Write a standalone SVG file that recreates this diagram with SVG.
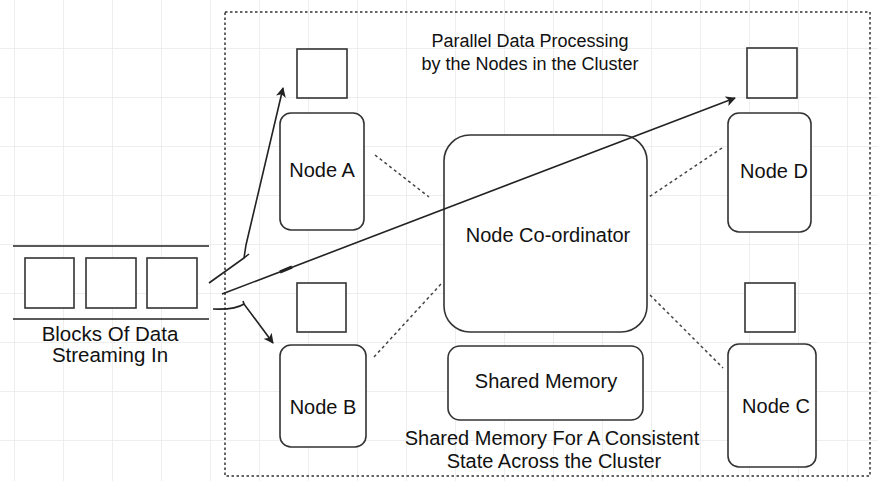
<svg xmlns="http://www.w3.org/2000/svg" width="878" height="481" viewBox="0 0 878 481">
  <defs>
    <pattern id="grid" x="14" y="-1" width="49" height="49" patternUnits="userSpaceOnUse">
      <path d="M0,0 H49 M0,0 V49" fill="none" stroke="#e9e9e9" stroke-width="1.5"/>
    </pattern>
    <marker id="arrow" viewBox="0 0 10 10" refX="9" refY="5" markerWidth="10" markerHeight="10" markerUnits="userSpaceOnUse" orient="auto">
      <path d="M0,0 L10,5 L0,10 L2.5,5 Z" fill="#222"/>
    </marker>
    <style>
      .box { fill: #ffffff; stroke: #333333; stroke-width: 1.6; }
      .line { fill: none; stroke: #222222; stroke-width: 1.6; }
      .dots { fill: none; stroke: #444444; stroke-width: 1.5; stroke-dasharray: 3 3; }
      .border { fill: none; stroke: #333333; stroke-width: 1.5; stroke-dasharray: 2.5 2.5; }
      text { font-family: "Liberation Sans", Arial, sans-serif; fill: #111111; text-anchor: middle; }
      .lbl { font-size: 20px; }
      .cap { font-size: 18px; }
      .blk { font-size: 20.5px; }
    </style>
  </defs>

  <!-- paper grid -->
  <rect width="878" height="481" fill="#ffffff"/>
  <rect width="878" height="481" fill="url(#grid)"/>

  <!-- cluster boundary -->
  <rect class="border" x="225" y="12" width="645" height="464"/>

  <g id="title">
    <text class="cap" x="530" y="47">Parallel Data Processing</text>
    <text class="cap" x="530" y="70">by the Nodes in the Cluster</text>
  </g>

  <!-- incoming data stream -->
  <g id="stream">
    <line class="line" x1="13" y1="246" x2="209" y2="246"/>
    <line class="line" x1="13" y1="319" x2="209" y2="319"/>
    <rect class="box" x="25" y="258" width="49" height="50"/>
    <rect class="box" x="86" y="258" width="50" height="50"/>
    <rect class="box" x="147" y="258" width="50" height="50"/>
    <text class="blk" x="110" y="341">Blocks Of Data</text>
    <text class="blk" x="110" y="362">Streaming In</text>
  </g>

  <g id="node-a">
    <rect class="box" x="297" y="49" width="50" height="49"/>
    <rect class="box" x="280" y="113" width="84" height="117" rx="11"/>
    <text class="lbl" x="322" y="177">Node A</text>
  </g>

  <g id="node-b">
    <rect class="box" x="297" y="283" width="49" height="49"/>
    <rect class="box" x="280" y="345" width="86" height="102" rx="11"/>
    <text class="lbl" x="323" y="414">Node B</text>
  </g>

  <g id="node-c">
    <rect class="box" x="745" y="283" width="50" height="49"/>
    <rect class="box" x="728" y="344" width="88" height="123" rx="11"/>
    <text class="lbl" x="776" y="413">Node C</text>
  </g>

  <g id="node-d">
    <rect class="box" x="747" y="48" width="50" height="50"/>
    <rect class="box" x="728" y="113" width="83" height="119" rx="11"/>
    <text class="lbl" x="774" y="178">Node D</text>
  </g>

  <g id="coordinator">
    <rect class="box" x="444" y="135" width="203" height="197" rx="26"/>
  </g>

  <g id="shared-memory">
    <rect class="box" x="448" y="346" width="195" height="74" rx="12"/>
    <text class="lbl" x="546" y="388">Shared Memory</text>
    <text class="lbl" x="552" y="445">Shared Memory For A Consistent</text>
    <text class="lbl" x="554" y="468">State Across the Cluster</text>
  </g>

  <g id="connectors">
    <!-- coordinator links -->
    <line class="dots" x1="375" y1="155" x2="429" y2="197"/>
    <line class="dots" x1="722" y1="148" x2="649" y2="197"/>
    <line class="dots" x1="374" y1="357" x2="441" y2="284"/>
    <line class="dots" x1="650" y1="295" x2="723" y2="368"/>
    <!-- data distribution -->
    <polyline class="line" points="209,283 244,258 246,245 283,88" marker-end="url(#arrow)"/>
    <line class="line" x1="244" y1="258" x2="249" y2="254"/>
    <line class="line" x1="222" y1="294" x2="735" y2="98" marker-end="url(#arrow)"/>
    <line x1="280" y1="272" x2="292" y2="267" stroke="#222" stroke-width="3.2"/>
    <path class="line" d="M213,309 Q235,310 244,304 L273,343" marker-end="url(#arrow)"/>
    <line class="line" x1="244" y1="304" x2="243" y2="301"/>
  </g>

  <!-- coordinator label drawn above the crossing stream line -->
  <text class="lbl" x="548" y="242">Node Co-ordinator</text>
</svg>
